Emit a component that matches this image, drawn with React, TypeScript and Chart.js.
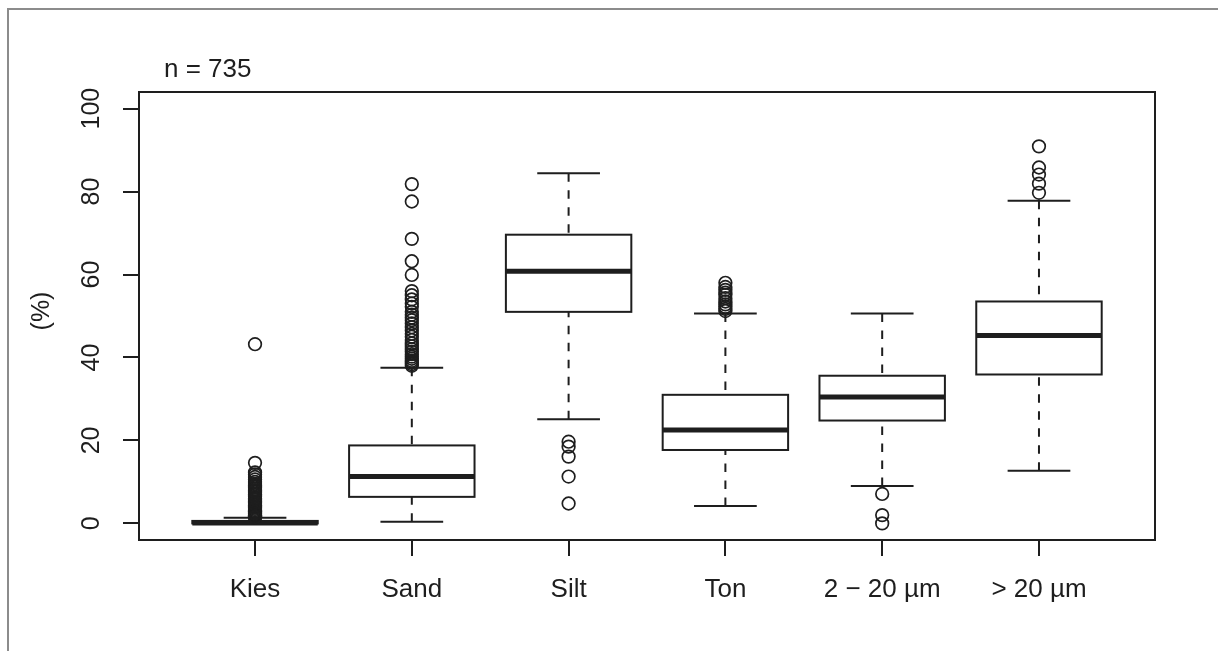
import React, { useEffect, useRef } from "react";
import { Chart, registerables } from "chart.js";

Chart.register(...registerables);

// ---- data ----
const categories = ["Kies", "Sand", "Silt", "Ton", "2 \u2212 20 \u00b5m", "> 20 \u00b5m"];
const whiskerLow = [0, 0.4, 25.1, 4.2, 9.0, 12.7];
const q1 = [0, 6.4, 51.0, 17.7, 24.8, 35.9];
const median = [0.1, 11.3, 60.8, 22.5, 30.5, 45.3];
const q3 = [0.6, 18.8, 69.6, 31.0, 35.6, 53.5];
const whiskerHigh = [1.35, 37.5, 84.4, 50.6, 50.6, 77.8];

const outliersKies = [43.2, 14.6, 12.3, 11.8, 11.2, 10.6, 10.0, 9.5, 9.1, 8.7, 8.3, 7.9, 7.5, 7.1, 6.8, 6.4, 6.0, 5.7, 5.3, 5.0, 4.7, 4.4, 4.1, 3.8, 3.5, 3.2, 2.9, 2.7, 2.5, 2.3, 2.1, 1.9, 1.8, 1.7, 1.6, 1.5];
const outliersSand = [81.8, 77.6, 68.6, 63.2, 59.9, 56.0, 55.0, 54.0, 53.0, 52.2, 51.0, 50.3, 49.6, 49.0, 48.2, 47.3, 46.5, 45.7, 45.0, 44.2, 43.4, 42.7, 42.0, 41.4, 40.8, 40.2, 39.7, 39.2, 38.8, 38.4, 38.0];
const outliersSilt = [19.7, 18.5, 16.1, 11.3, 4.8];
const outliersTon = [58.0, 57.0, 56.3, 55.6, 55.1, 54.3, 53.5, 52.8, 52.2, 51.7, 51.2];
const outliers2to20 = [7.1, 2.0, 0.0];
const outliersOver20 = [90.9, 85.8, 84.1, 81.9, 79.7];

const yTickValues = [0, 20, 40, 60, 80, 100];
const titleText = "n = 735";
const yAxisTitle = "(%)";

const allOutliers = [outliersKies, outliersSand, outliersSilt, outliersTon, outliers2to20, outliersOver20];

const INK = "#1e1e1e";
const FONT = "'Liberation Sans', Arial, sans-serif";
const BOX_HALF = 0.4;
const STAPLE_HALF = 0.2;

const boxPlugin = {
  id: "boxplotDraw",
  beforeDatasetsDraw(chart: any) {
    const { ctx } = chart;
    const x = chart.scales.x;
    const y = chart.scales.y;
    ctx.save();
    ctx.strokeStyle = INK;
    for (let i = 0; i < categories.length; i++) {
      const pos = i + 1;
      const xc = x.getPixelForValue(pos);
      const xl = x.getPixelForValue(pos - BOX_HALF);
      const xr = x.getPixelForValue(pos + BOX_HALF);
      const sl = x.getPixelForValue(pos - STAPLE_HALF);
      const sr = x.getPixelForValue(pos + STAPLE_HALF);
      const yLo = y.getPixelForValue(whiskerLow[i]);
      const yQ1 = y.getPixelForValue(q1[i]);
      const yMed = y.getPixelForValue(median[i]);
      const yQ3 = y.getPixelForValue(q3[i]);
      const yHi = y.getPixelForValue(whiskerHigh[i]);
      // whiskers (dashed)
      ctx.lineWidth = 2;
      ctx.setLineDash([8.5, 8.5]);
      ctx.beginPath();
      ctx.moveTo(xc, yHi);
      ctx.lineTo(xc, yQ3);
      ctx.moveTo(xc, yLo);
      ctx.lineTo(xc, yQ1);
      ctx.stroke();
      ctx.setLineDash([]);
      // staples
      ctx.beginPath();
      ctx.moveTo(sl, yHi);
      ctx.lineTo(sr, yHi);
      ctx.moveTo(sl, yLo);
      ctx.lineTo(sr, yLo);
      ctx.stroke();
      // box
      ctx.strokeRect(xl, yQ3, xr - xl, yQ1 - yQ3);
      // median
      ctx.lineWidth = 5;
      ctx.lineCap = "butt";
      ctx.beginPath();
      ctx.moveTo(xl, yMed);
      ctx.lineTo(xr, yMed);
      ctx.stroke();
    }
    ctx.restore();
  },
  afterDraw(chart: any) {
    const { ctx, chartArea } = chart;
    const y = chart.scales.y;
    ctx.save();
    // plot frame
    ctx.strokeStyle = INK;
    ctx.lineWidth = 2;
    ctx.strokeRect(chartArea.left, chartArea.top, chartArea.right - chartArea.left, chartArea.bottom - chartArea.top);
    ctx.fillStyle = INK;
    // title
    ctx.font = `26px ${FONT}`;
    ctx.textAlign = "left";
    ctx.textBaseline = "middle";
    ctx.fillText(titleText, chartArea.left + 25, chartArea.top - 22);
    // y tick labels (rotated like R's las=0)
    ctx.font = `25px ${FONT}`;
    ctx.textAlign = "center";
    for (const v of yTickValues) {
      const py = y.getPixelForValue(v);
      ctx.save();
      ctx.translate(chartArea.left - 47, py);
      ctx.rotate(-Math.PI / 2);
      ctx.fillText(String(v), 0, 0);
      ctx.restore();
    }
    // y axis title
    ctx.font = `25px ${FONT}`;
    ctx.save();
    ctx.translate(chartArea.left - 97, (chartArea.top + chartArea.bottom) / 2 - 5);
    ctx.rotate(-Math.PI / 2);
    ctx.fillText(yAxisTitle, 0, 0);
    ctx.restore();
    ctx.restore();
  },
};

export default function App() {
  const canvasRef = useRef<HTMLCanvasElement | null>(null);

  useEffect(() => {
    if (!canvasRef.current) return;
    const points: { x: number; y: number }[] = [];
    allOutliers.forEach((arr, i) => arr.forEach((v) => points.push({ x: i + 1, y: v })));

    const chart = new Chart(canvasRef.current, {
      type: "scatter",
      data: {
        datasets: [
          {
            label: "outliers",
            data: points,
            pointStyle: "circle",
            pointRadius: 6.3,
            pointHoverRadius: 6.3,
            borderWidth: 1.7,
            borderColor: INK,
            backgroundColor: "rgba(0,0,0,0)",
          },
        ],
      },
      options: {
        animation: false,
        responsive: false,
        devicePixelRatio: 1,
        events: [],
        layout: { padding: { left: 0, top: 92, right: 63, bottom: 0 } },
        plugins: {
          legend: { display: false },
          tooltip: { enabled: false },
          title: { display: false },
        },
        scales: {
          x: {
            type: "linear",
            min: 0.26,
            max: 6.74,
            afterBuildTicks: (scale: any) => {
              scale.ticks = categories.map((_, i) => ({ value: i + 1 }));
            },
            afterFit: (scale: any) => {
              scale.height = 111;
            },
            grid: {
              display: true,
              drawOnChartArea: false,
              drawTicks: true,
              tickLength: 16,
              color: INK,
              lineWidth: 2,
            },
            border: { display: false },
            ticks: {
              autoSkip: false,
              maxRotation: 0,
              minRotation: 0,
              padding: 18,
              color: INK,
              font: { size: 26, family: FONT },
              callback: (v: any) => categories[Math.round(Number(v)) - 1] ?? "",
            },
          },
          y: {
            type: "linear",
            min: -4,
            max: 104,
            afterBuildTicks: (scale: any) => {
              scale.ticks = yTickValues.map((v) => ({ value: v }));
            },
            afterFit: (scale: any) => {
              scale.width = 139;
            },
            grid: {
              display: true,
              drawOnChartArea: false,
              drawTicks: true,
              tickLength: 16,
              color: INK,
              lineWidth: 2,
            },
            border: { display: false },
            ticks: { display: false },
          },
        },
      },
      plugins: [boxPlugin],
    });
    return () => chart.destroy();
  }, []);

  return (
    <div style={{ position: "fixed", left: 0, top: 0, width: 1218, height: 651, background: "#fff", overflow: "hidden" }}>
      <canvas ref={canvasRef} width={1218} height={651} style={{ display: "block", width: 1218, height: 651 }} />
      <div
        style={{
          position: "absolute",
          left: 7,
          top: 8,
          width: 1400,
          height: 800,
          borderLeft: "2px solid #8c8c8c",
          borderTop: "2px solid #8c8c8c",
          pointerEvents: "none",
        }}
      />
    </div>
  );
}
